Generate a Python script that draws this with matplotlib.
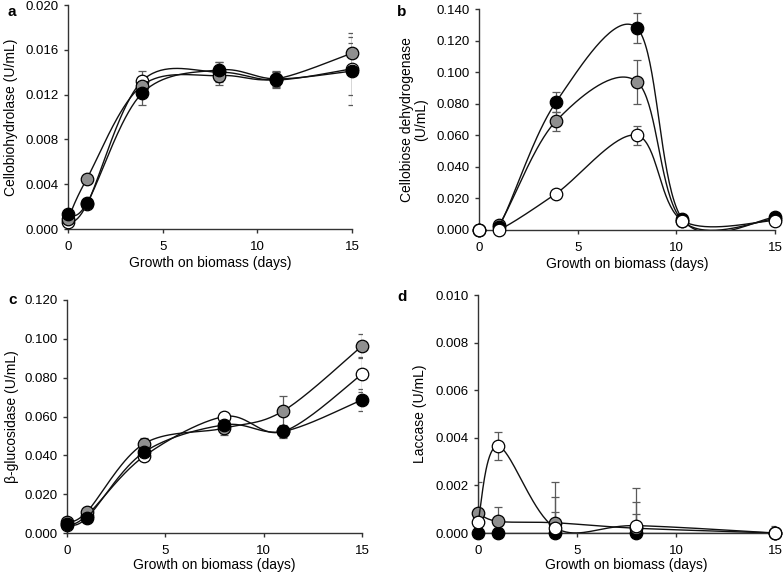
import numpy as np
import matplotlib
matplotlib.use("Agg")
import matplotlib.pyplot as plt

plt.rcParams['font.family'] = ['Liberation Sans', 'DejaVu Sans']

# ---------------- data ----------------
days_a = [0, 1, 3.9, 8, 11, 15]
cbh_white = [0.0006, 0.0022, 0.0132, 0.0140, 0.0133, 0.0143]
cbh_gray = [0.0009, 0.0045, 0.0128, 0.0137, 0.0134, 0.0157]
cbh_black = [0.0013, 0.0023, 0.0121, 0.0142, 0.0134, 0.0141]
cbh_white_err = [0.0001, 0.0002, 0.0009, 0.0009, 0.0007, 0.0023]
cbh_gray_err = [0.0001, 0.0002, 0.0007, 0.0008, 0.0006, 0.0018]
cbh_black_err = [0.0002, 0.0002, 0.0010, 0.0007, 0.0007, 0.0030]

days_b = [0, 1, 3.9, 8, 10.3, 15]
cdh_white = [0.0, 0.0, 0.023, 0.060, 0.006, 0.006]
cdh_gray = [0.0, 0.003, 0.069, 0.094, 0.006, 0.007]
cdh_black = [0.0, 0.002, 0.081, 0.128, 0.007, 0.008]
cdh_white_err = [0.0, 0.0, 0.001, 0.006, 0.001, 0.001]
cdh_gray_err = [0.0, 0.001, 0.006, 0.014, 0.001, 0.001]
cdh_black_err = [0.0, 0.001, 0.0065, 0.0095, 0.001, 0.001]

days_c = [0, 1, 3.9, 8, 11, 15]
bgl_white = [0.0039, 0.0090, 0.0394, 0.0600, 0.0523, 0.0818]
bgl_gray = [0.0057, 0.0108, 0.0459, 0.0540, 0.0629, 0.0963]
bgl_black = [0.0046, 0.0077, 0.0415, 0.0557, 0.0523, 0.0686]
bgl_white_err = [0.0005, 0.0008, 0.0020, 0.0020, 0.0030, 0.0090]
bgl_gray_err = [0.0005, 0.0008, 0.0030, 0.0035, 0.0077, 0.0060]
bgl_black_err = [0.0005, 0.0008, 0.0025, 0.0040, 0.0034, 0.0057]

days_d = [0, 1, 3.9, 8, 15]
lac_white = [0.00046, 0.00365, 0.00022, 0.00031, 0.0]
lac_gray = [0.00084, 0.00049, 0.00043, 0.00020, 0.0]
lac_black = [0.0, 0.0, 0.0, 0.0, 0.0]
lac_white_err = [0.0, 0.0006, 0.0013, 0.0016, 0.0003]
lac_gray_err = [0.0013, 0.0006, 0.0017, 0.0011, 0.0]
lac_black_err = [0.0, 0.0, 0.0009, 0.0008, 0.0]

xlabel = "Growth on biomass (days)"
ylabels = ["Cellobiohydrolase (U/mL)", "Cellobiose dehydrogenase\n(U/mL)",
           "\u03b2-glucosidase (U/mL)", "Laccase (U/mL)"]
letters = ["a", "b", "c", "d"]
xticks = [0, 5, 10, 15]
yticks_a = [0.000, 0.004, 0.008, 0.012, 0.016, 0.020]
yticks_b = [0.000, 0.020, 0.040, 0.060, 0.080, 0.100, 0.120, 0.140]
yticks_c = [0.000, 0.020, 0.040, 0.060, 0.080, 0.100, 0.120]
yticks_d = [0.000, 0.002, 0.004, 0.006, 0.008, 0.010]

# ---------------- styling ----------------
W, H = 784, 573
fig = plt.figure(figsize=(W / 100, H / 100), dpi=100)

face = {"white": "white", "gray": "#8f8f8f", "black": "black"}

# axes boxes in pixels: left, right, top, bottom
boxes = [(68, 352, 5, 229), (479, 775, 9, 230), (67, 362, 300, 533), (478, 775, 295, 533)]
ylab_x = [11, 414, 12, 420]
xlab_dy = [34, 34, 32, 32]
letter_xy = [(8, 12), (397, 12), (8, 300), (397, 297)]


def smooth(x, y, xlim, ylim, wpx, hpx, n=40):
    # Catmull-Rom (Excel-like smoothed line) computed in screen space
    px = (np.asarray(x, float) - xlim[0]) / (xlim[1] - xlim[0]) * wpx
    py = (np.asarray(y, float) - ylim[0]) / (ylim[1] - ylim[0]) * hpx
    P = np.column_stack([px, py])
    out = [P[0]]
    m = len(P)
    for i in range(m - 1):
        p0 = P[i - 1] if i > 0 else P[i]
        p1 = P[i]
        p2 = P[i + 1]
        p3 = P[i + 2] if i + 2 < m else P[i + 1]
        c1 = p1 + (p2 - p0) / 6.0
        c2 = p2 - (p3 - p1) / 6.0
        t = np.linspace(0, 1, n)[1:, None]
        seg = ((1 - t) ** 3) * p1 + 3 * ((1 - t) ** 2) * t * c1 + 3 * (1 - t) * t ** 2 * c2 + t ** 3 * p2
        out.extend(seg)
    out = np.array(out)
    sx = out[:, 0] / wpx * (xlim[1] - xlim[0]) + xlim[0]
    sy = out[:, 1] / hpx * (ylim[1] - ylim[0]) + ylim[0]
    return sx, sy


panels = [
    (days_a, {"white": (cbh_white, cbh_white_err), "gray": (cbh_gray, cbh_gray_err),
              "black": (cbh_black, cbh_black_err)}, yticks_a, ["white", "gray", "black"]),
    (days_b, {"white": (cdh_white, cdh_white_err), "gray": (cdh_gray, cdh_gray_err),
              "black": (cdh_black, cdh_black_err)}, yticks_b, ["gray", "black", "white"]),
    (days_c, {"white": (bgl_white, bgl_white_err), "gray": (bgl_gray, bgl_gray_err),
              "black": (bgl_black, bgl_black_err)}, yticks_c, ["white", "gray", "black"]),
    (days_d, {"white": (lac_white, lac_white_err), "gray": (lac_gray, lac_gray_err),
              "black": (lac_black, lac_black_err)}, yticks_d, ["black", "gray", "white"]),
]

for k, (days, series, yt, order) in enumerate(panels):
    l, r, t, b = boxes[k]
    ax = fig.add_axes([l / W, 1 - b / H, (r - l) / W, (b - t) / H])
    wpx, hpx = r - l, b - t
    xlim = (0, 15)
    ylim = (yt[0], yt[-1])
    ax.set_xlim(*xlim)
    ax.set_ylim(*ylim)
    for z, name in enumerate(order):
        vals, errs = series[name]
        ax.errorbar(days, vals, yerr=errs, fmt="none", ecolor="#5a5a5a",
                    elinewidth=0.9, capsize=2.6, capthick=0.9, zorder=2)
        sx, sy = smooth(days, vals, xlim, ylim, wpx, hpx)
        ax.plot(sx, sy, color="#111111", lw=1.0, zorder=3 + z * 2)
        ax.plot(days, vals, "o", ms=9, mfc=face[name], mec="black", mew=0.9,
                zorder=4 + z * 2, clip_on=False)
    ax.set_xticks(xticks)
    ax.set_yticks(yt)
    ax.set_yticklabels([f"{v:.3f}" for v in yt])
    for s in ["top", "right"]:
        ax.spines[s].set_visible(False)
    for s in ["left", "bottom"]:
        ax.spines[s].set_color("#333333")
        ax.spines[s].set_linewidth(1.0)
    ax.tick_params(direction="out", length=3, width=1, color="#333333",
                   labelsize=9.5)
    ax.tick_params(axis="x", pad=6)
    ax.tick_params(axis="y", pad=4)
    ax.set_xlabel(xlabel, fontsize=10, va="center")
    ax.xaxis.set_label_coords(0.5, -xlab_dy[k] / hpx)
    ax.set_ylabel(ylabels[k], fontsize=10, linespacing=1.0, va="center")
    ax.yaxis.set_label_coords((ylab_x[k] - l) / wpx, 0.5)
    lx, ly = letter_xy[k]
    fig.text(lx / W, 1 - ly / H, letters[k], fontsize=11, fontweight="bold",
             va="center", ha="left")

fig.savefig("out.png", dpi=100)
